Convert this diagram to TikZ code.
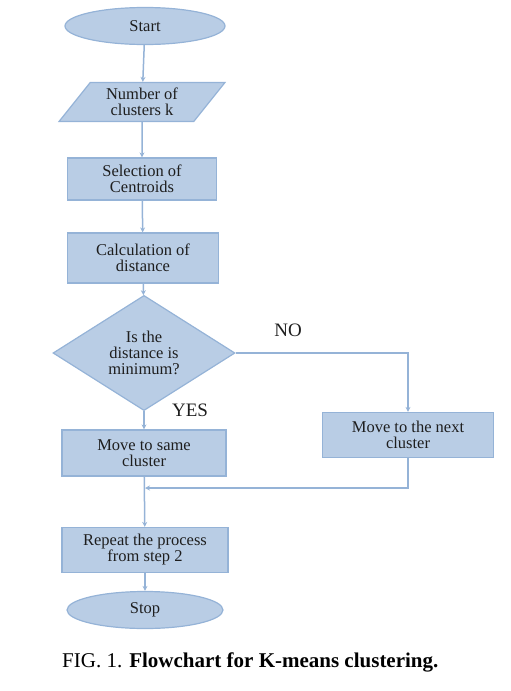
\documentclass[tikz,border=0pt]{standalone}
\usepackage{fontspec}
\setmainfont{Liberation Serif}
\usetikzlibrary{
    shapes.geometric,
    arrows.meta,
    positioning,
    calc
}
\definecolor{flowfill}{RGB}{185, 205, 229}
\definecolor{flowedge}{RGB}{149, 179, 215}
\definecolor{flowtext}{RGB}{30, 30, 30}

\begin{document}
\begin{tikzpicture}[
        x=1pt, y=-1pt,
        box/.style={rectangle, draw=flowedge, fill=flowfill, line width=1.2pt, align=center, inner sep=0pt, text=flowtext, font=\fontsize{16.5}{16}\selectfont},
        term/.style={ellipse, draw=flowedge, fill=flowfill, line width=1.2pt, inner sep=0pt, text=flowtext, font=\fontsize{16.5}{16}\selectfont},
        arrow/.style={draw=flowedge, line width=1.5pt, -{Stealth[length=5pt, width=5pt]}},
        tag/.style={font=\fontsize{19}{20}\selectfont, text=flowtext}
    ]
        \useasboundingbox (0,0) rectangle (511,691);

        % Column 1: main flow
        \node[term, minimum width=160pt, minimum height=37pt] (start) at (145,26) {Start};
        \node[box, trapezium, trapezium left angle=52, trapezium right angle=128, trapezium stretches=true, minimum width=166pt, minimum height=39pt] (num) at (142,102) {Number of\\clusters k};
        \node[box, minimum width=149pt, minimum height=42pt] (sel) at (142,179) {Selection of\\Centroids};
        \node[box, minimum width=151pt, minimum height=50pt] (calc) at (143,258) {Calculation of\\distance};
        \node[box, diamond, minimum width=182pt, minimum height=107pt] (dec) at (144,353) {Is the\\distance is\\minimum?};

        % Branches
        \node[box, minimum width=164pt, minimum height=46pt] (same) at (144,453) {Move to same\\cluster};
        \node[box, minimum width=171pt, minimum height=45pt] (next) at (408,435) {Move to the next\\cluster};
        \coordinate (join) at (145,488);

        % Bottom
        \node[box, minimum width=166pt, minimum height=45pt] (rep) at (145,550) {Repeat the process\\from step 2};
        \node[term, minimum width=156pt, minimum height=37pt] (stop) at (145,610) {Stop};

        % Labels
        \node[tag] (no) at (288,330) {NO};
        \node[tag] (yes) at (190,410) {YES};

        % Arrows
        \draw[arrow] (start) -- (num);
        \draw[arrow] (num) -- (sel);
        \draw[arrow] (sel) -- (calc);
        \draw[arrow] (calc) -- (dec);
        \draw[arrow] (dec) -- (same);
        \draw[arrow] (dec.east) -| (next.north);
        \draw[arrow] (same) -- (rep);
        \draw[arrow] (next.south) |- (join);
        \draw[arrow] (rep) -- (stop);

        % Caption
        \node[anchor=west, inner sep=0pt, font=\fontsize{21}{24}\selectfont] (caption) at (62,662) {FIG. 1. \textbf{Flowchart for K-means clustering.}};
    \end{tikzpicture}
\end{document}
